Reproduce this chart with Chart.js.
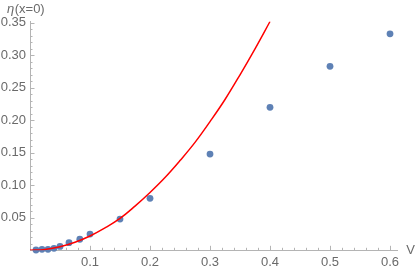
<!DOCTYPE html>
<html><head><meta charset="utf-8">
<script src="https://cdn.jsdelivr.net/npm/chart.js@4"></script>
<style>html,body{margin:0;padding:0;background:#fff;}canvas{display:block;}</style>
</head><body>
<canvas id="c" width="415" height="271"></canvas>
<script>
// Data
const pointsV   = [0.01, 0.02, 0.03, 0.04, 0.05, 0.065, 0.083, 0.1, 0.15, 0.2, 0.3, 0.4, 0.5, 0.6];
const pointsEta = [0.0005, 0.0015, 0.0015, 0.003, 0.006, 0.0117, 0.017, 0.025, 0.048, 0.080, 0.148, 0.220, 0.283, 0.333];
const curveV    = [0, 0.025, 0.05, 0.075, 0.1, 0.125, 0.15, 0.175, 0.2, 0.225, 0.25, 0.275, 0.3, 0.325, 0.35, 0.375, 0.4];
const curveEta  = [0, 0.0014, 0.0055, 0.0124, 0.022, 0.0344, 0.049, 0.068, 0.089, 0.112, 0.138, 0.166, 0.198, 0.232, 0.27, 0.31, 0.352];
const xTicks = [0.1, 0.2, 0.3, 0.4, 0.5, 0.6];
const yTicks = [0.05, 0.10, 0.15, 0.20, 0.25, 0.30, 0.35];
const xMinorStep = 0.02, yMinorStep = 0.01;

const axisColor = '#b4b4b4';
const labelColor = '#6a6a6a';
const font = {family: '"Liberation Sans", Arial, sans-serif', size: 13};

const tickPlugin = {
  id: 'innerTicks',
  beforeDatasetsDraw(chart) {
    const ctx = chart.ctx, x = chart.scales.x, y = chart.scales.y;
    const a = chart.chartArea;
    ctx.save();
    ctx.strokeStyle = axisColor;
    ctx.lineWidth = 1;
    ctx.beginPath();
    for (let v = 0; v <= x.max + 1e-9; v += xMinorStep) {
      const px = Math.round(x.getPixelForValue(v)) + 0.5;
      const major = Math.abs(v / 0.1 - Math.round(v / 0.1)) < 1e-6;
      const len = major ? 4.5 : 2.5;
      ctx.moveTo(px, a.bottom); ctx.lineTo(px, a.bottom - len);
    }
    for (let v = 0; v <= y.max + 1e-9; v += yMinorStep) {
      const py = Math.round(y.getPixelForValue(v)) + 0.5;
      const major = Math.abs(v / 0.05 - Math.round(v / 0.05)) < 1e-6;
      const len = major ? 4.5 : 2.5;
      ctx.moveTo(a.left, py); ctx.lineTo(a.left + len, py);
    }
    ctx.stroke();
    ctx.restore();
  },
  afterDraw(chart) {
    const ctx = chart.ctx, a = chart.chartArea;
    ctx.save();
    ctx.fillStyle = labelColor;
    ctx.textBaseline = 'middle';
    ctx.font = 'italic 13px "Liberation Sans", Arial, sans-serif';
    ctx.fillText('η', 7, 9);
    const w = ctx.measureText('η').width;
    ctx.font = '13px "Liberation Sans", Arial, sans-serif';
    ctx.fillText('(x=0)', 7 + w + 0.5, 9);
    ctx.fillText('V', a.right + 8.5, a.bottom);
    ctx.restore();
  }
};

new Chart(document.getElementById('c'), {
  data: {
    datasets: [
      {
        type: 'line',
        data: curveV.map((v, i) => ({x: v, y: curveEta[i]})),
        borderColor: '#ff0000',
        borderWidth: 1.5,
        pointRadius: 0,
        fill: false,
        tension: 0.4,
        clip: 0
      },
      {
        type: 'scatter',
        data: pointsV.map((v, i) => ({x: v, y: pointsEta[i]})),
        backgroundColor: '#5e81b5',
        borderColor: '#5e81b5',
        borderWidth: 0,
        pointRadius: 3.4,
        clip: false
      }
    ]
  },
  options: {
    responsive: false,
    animation: false,
    devicePixelRatio: 1,
    layout: {padding: {top: 21.5, right: 17.3, left: 0, bottom: 0}},
    plugins: {legend: {display: false}, tooltip: {enabled: false}},
    scales: {
      x: {
        type: 'linear', min: 0, max: 0.6128,
        afterBuildTicks: s => { s.ticks = xTicks.map(v => ({value: v})); },
        afterFit: s => { s.height = 20.7; },
        grid: {display: true, drawOnChartArea: false, drawTicks: false},
        border: {display: true, color: axisColor, width: 1},
        ticks: {color: labelColor, font: font, padding: 4, maxRotation: 0, autoSkip: false,
                callback: v => v.toFixed(1)}
      },
      y: {
        type: 'linear', min: 0, max: 0.352,
        afterBuildTicks: s => { s.ticks = yTicks.map(v => ({value: v})); },
        afterFit: s => { s.width = 30; },
        grid: {display: true, drawOnChartArea: false, drawTicks: false},
        border: {display: true, color: axisColor, width: 1},
        ticks: {color: labelColor, font: font, padding: 4, autoSkip: false,
                callback: v => v.toFixed(2)}
      }
    }
  },
  plugins: [tickPlugin]
});
</script>
</body></html>
